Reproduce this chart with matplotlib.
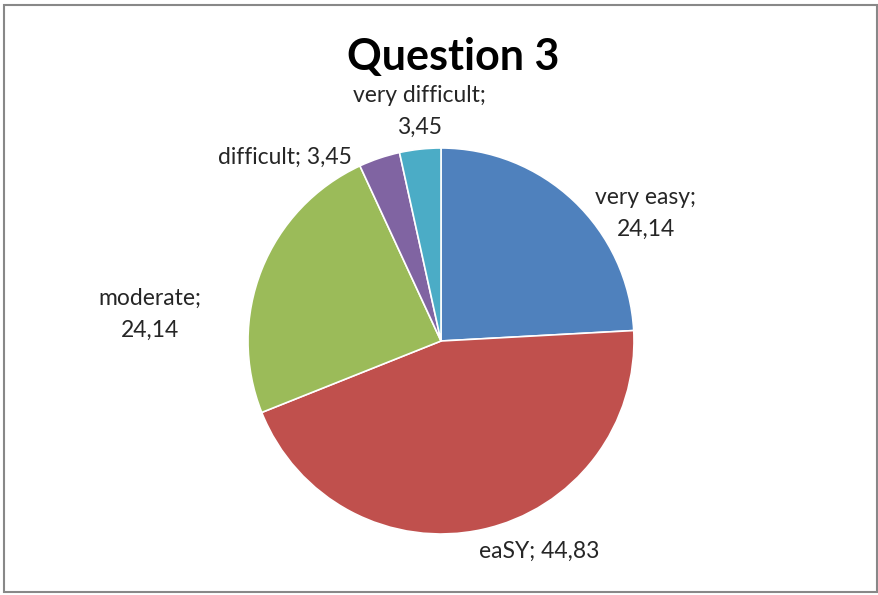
import matplotlib
matplotlib.use("Agg")
import matplotlib.pyplot as plt
from matplotlib.patches import Rectangle

# data
categories = ["very easy", "eaSY", "moderate", "difficult", "very difficult"]
values = [24.14, 44.83, 24.14, 3.45, 3.45]
colors = ["#4F81BD", "#C0504D", "#9BBB59", "#8064A2", "#4BACC6"]

# label layout (data coords of the unit pie) and line breaks
label_pos = [(1.06, 0.66), (0.51, -1.09), (-1.51, 0.14), (-0.81, 0.95), (-0.11, 1.19)]
label_sep = ["\n", " ", "\n", " ", "\n"]

plt.rcParams['font.family'] = ['Lato', 'DejaVu Sans']

fig = plt.figure(figsize=(8.79, 5.95), dpi=100)
W, H = 879, 595
cx, cy, r = 441, 341, 193
ax = fig.add_axes([(cx - r) / W, (H - cy - r) / H, 2 * r / W, 2 * r / H])

ax.pie(values, colors=colors, startangle=90, counterclock=False,
       wedgeprops=dict(linewidth=1.2, edgecolor="white"))
ax.set_xlim(-1, 1)
ax.set_ylim(-1, 1)
ax.set_aspect("equal")
ax.axis("off")

for name, v, sep, (x, y) in zip(categories, values, label_sep, label_pos):
    txt = f"{name};{sep}" + f"{v:.2f}".replace(".", ",")
    ax.text(x, y, txt, ha="center", va="center", fontsize=16.5,
            color="#262626", linespacing=1.65, clip_on=False)

fig.text(453 / W, 1 - 57 / H, "Question 3", ha="center", va="center",
         fontsize=31, fontweight="bold", color="black")

# chart frame
fig.patches.append(Rectangle((4 / W, 3 / H), (877 - 4) / W, (590 - 3) / H,
                             transform=fig.transFigure, fill=False,
                             edgecolor="#888888", linewidth=1.5))

fig.savefig("out.png", dpi=100)
